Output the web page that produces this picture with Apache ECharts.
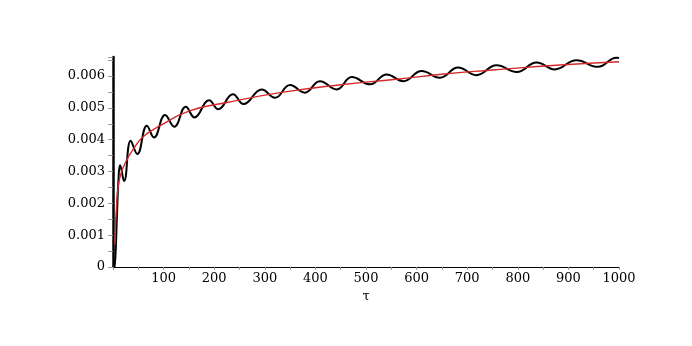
<!DOCTYPE html>
<html>
<head>
<meta charset="utf-8">
<script src="https://cdn.jsdelivr.net/npm/echarts@6/dist/echarts.min.js"></script>
<style>
html, body { margin: 0; padding: 0; background: #fff; }
#chart { width: 692px; height: 346px; }
</style>
</head>
<body>
<div id="chart"></div>
<script>
// oscillating curve (tau, value)
var blackTau = [3, 5, 8, 11, 14, 22, 35, 48, 67, 81, 103, 121, 144, 161, 190, 208, 237, 258,
  294, 320, 350, 379, 409, 442, 472, 508, 541, 574, 610, 646, 682, 718, 758, 798, 837, 873,
  916, 958, 995, 1000];
var blackVal = [0, 0.0004, 0.0017, 0.0028, 0.0032, 0.0027, 0.00397, 0.00355, 0.00444, 0.00407,
  0.00478, 0.00441, 0.00504, 0.0047, 0.00524, 0.00496, 0.00543, 0.00512, 0.00558, 0.00532,
  0.00572, 0.00548, 0.00584, 0.00558, 0.00597, 0.00574, 0.00605, 0.00584, 0.00616, 0.00595,
  0.00627, 0.00603, 0.00634, 0.00613, 0.00643, 0.00621, 0.0065, 0.00629, 0.00658, 0.00657];

// smooth red curve
var redTau = [4, 5, 7, 10, 15, 25, 40, 60, 93, 150, 225, 330, 450, 560, 650, 750, 883, 1000];
var redVal = [0.0007, 0.0013, 0.0019, 0.0025, 0.0029, 0.0033, 0.0037, 0.0041, 0.00444, 0.0049,
  0.00517, 0.00548, 0.00573, 0.0059, 0.00606, 0.00619, 0.00635, 0.00645];

function pairs(xs, ys) {
  return xs.map(function (x, i) { return [x, ys[i]]; });
}

var labelFont = { fontFamily: "DejaVu Serif", fontSize: 13, color: "#000" };

var option = {
  animation: false,
  grid: { left: 113, right: 73, top: 57, bottom: 79 },
  xAxis: {
    type: "value",
    min: 0,
    max: 1000,
    interval: 100,
    name: "τ",
    nameLocation: "middle",
    nameGap: 15,
    nameTextStyle: { fontFamily: "DejaVu Serif", fontSize: 13, color: "#000" },
    axisLine: { onZero: false, lineStyle: { color: "#000", width: 1.2 } },
    axisTick: { show: true, length: 3, lineStyle: { color: "#999" } },
    minorTick: { show: true, splitNumber: 2, length: 3, lineStyle: { color: "#999" } },
    splitLine: { show: false },
    axisLabel: Object.assign({
      margin: 5,
      showMinLabel: false,
      formatter: function (v) { return v === 0 ? "" : String(v); }
    }, labelFont)
  },
  yAxis: {
    type: "value",
    min: 0,
    max: 0.0066,
    interval: 0.001,
    axisLine: { show: true, lineStyle: { color: "#000", width: 2.5 } },
    axisTick: { show: true, length: 5, lineStyle: { color: "#999" } },
    minorTick: { show: true, splitNumber: 2, length: 5, lineStyle: { color: "#999" } },
    splitLine: { show: false },
    axisLabel: Object.assign({
      margin: 8,
      showMaxLabel: false,
      formatter: function (v) { return v === 0 ? "0" : v.toFixed(3); }
    }, labelFont)
  },
  series: [
    {
      type: "line",
      data: pairs(blackTau, blackVal),
      smooth: 0.45,
      symbol: "none",
      lineStyle: { color: "#000", width: 2 }
    },
    {
      type: "line",
      data: pairs(redTau, redVal),
      smooth: 0.5,
      symbol: "none",
      lineStyle: { color: "#d42a2a", width: 1.4 }
    }
  ]
};

var myChart = echarts.init(document.getElementById("chart"));
myChart.setOption(option);
</script>
</body>
</html>
